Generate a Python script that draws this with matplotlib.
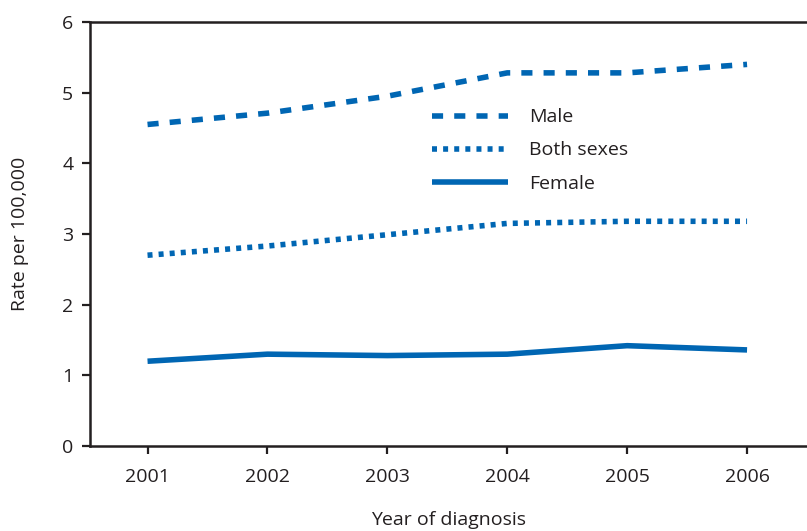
import matplotlib
matplotlib.use("Agg")
import matplotlib.pyplot as plt

years = [2001, 2002, 2003, 2004, 2005, 2006]
male = [4.55, 4.71, 4.95, 5.28, 5.28, 5.40]
both = [2.70, 2.83, 2.99, 3.15, 3.18, 3.18]
female = [1.20, 1.30, 1.28, 1.30, 1.42, 1.36]
yticks = [0, 1, 2, 3, 4, 5, 6]

plt.rcParams['font.family'] = ['Open Sans', 'DejaVu Sans']
blue = '#0066b3'
dark = '#231f20'

fig = plt.figure(figsize=(8.07, 5.31), dpi=100)
ax = fig.add_axes([0.1115, 0.160, 0.8885, 0.7986])

lw = 4.0
l1, = ax.plot(years, male, color=blue, lw=lw, label='Male', solid_capstyle='butt')
l1.set_dashes([2.0, 2.0])
l1.set_dash_capstyle('butt')
l2, = ax.plot(years, both, color=blue, lw=lw, label='Both sexes')
l2.set_dashes([0.9, 1.1])
l2.set_dash_capstyle('butt')
l3, = ax.plot(years, female, color=blue, lw=lw, label='Female', solid_capstyle='butt')

ax.set_xlim(2000.52, 2006.5)
ax.set_ylim(0, 6)
ax.set_xticks(years)
ax.set_yticks(yticks)

for s in ['left', 'bottom', 'top']:
    ax.spines[s].set_linewidth(1.8)
    ax.spines[s].set_color(dark)
ax.spines['right'].set_visible(False)

fs = 14
ax.tick_params(axis='both', direction='out', length=6, width=1.6, color=dark,
               labelsize=fs, labelcolor=dark)
ax.tick_params(axis='x', pad=10)
ax.tick_params(axis='y', pad=6)

ax.set_xlabel('Year of diagnosis', fontsize=fs, color=dark, labelpad=18)
ax.set_ylabel('Rate per 100,000', fontsize=fs, color=dark, labelpad=24)

leg = ax.legend(handles=[l1, l2, l3], loc='center left', bbox_to_anchor=(0.477, 0.697),
                frameon=False, fontsize=fs, handlelength=3.9, handletextpad=1.1,
                labelspacing=0.78, borderpad=0, borderaxespad=0, labelcolor=dark)

fig.savefig('out.png', dpi=100)
